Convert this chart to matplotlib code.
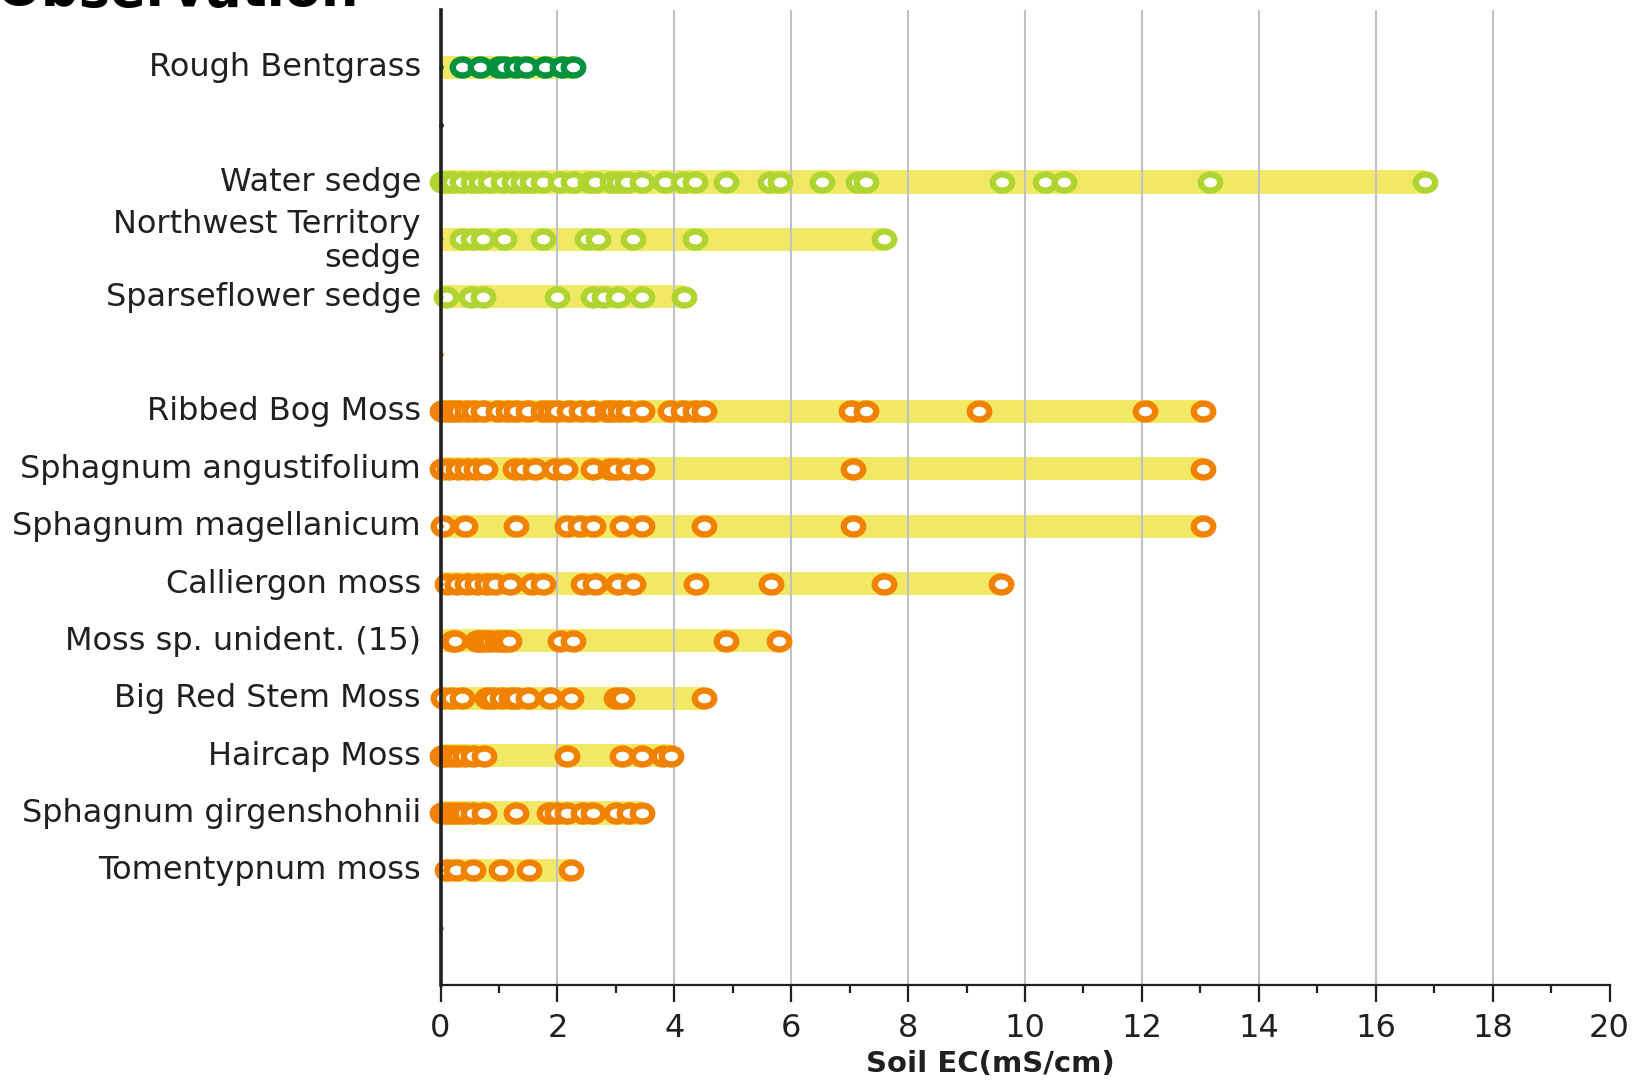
import matplotlib.pyplot as plt
import matplotlib.transforms as mtransforms
from matplotlib.path import Path
from matplotlib.markers import MarkerStyle
import numpy as np

# categories, top to bottom ('' = spacer row)
categories = ['Rough Bentgrass', '', 'Water sedge', 'Northwest Territory\nsedge',
              'Sparseflower sedge', '', 'Ribbed Bog Moss', 'Sphagnum angustifolium',
              'Sphagnum magellanicum', 'Calliergon moss', 'Moss sp. unident. (15)',
              'Big Red Stem Moss', 'Haircap Moss', 'Sphagnum girgenshohnii',
              'Tomentypnum moss', '']

# soil EC observations (mS/cm) per species
rough_bentgrass = [0.37, 0.68, 1.0, 1.09, 1.29, 1.47, 1.78, 2.08, 2.27]
water_sedge = [0.03, 0.12, 0.22, 0.36, 0.56, 0.70, 0.85, 1.07, 1.25, 1.42, 1.56, 1.76,
               2.04, 2.27, 2.55, 2.64, 2.93, 3.05, 3.19, 3.44, 3.84, 4.15, 4.35, 4.88,
               5.64, 5.80, 6.52, 7.15, 7.28, 9.60, 10.35, 10.66, 13.17, 16.84]
nwt_sedge = [0.36, 0.56, 0.73, 1.09, 1.76, 2.50, 2.70, 3.29, 4.35, 7.59]
sparseflower_sedge = [0.09, 0.53, 0.73, 2.00, 2.61, 2.80, 3.03, 3.44, 4.17]
ribbed_bog_moss = [0.03, 0.12, 0.22, 0.32, 0.45, 0.58, 0.73, 0.99, 1.16, 1.30, 1.50,
                   1.75, 1.87, 1.99, 2.19, 2.41, 2.61, 2.85, 2.93, 3.07, 3.21, 3.44,
                   3.93, 4.15, 4.35, 4.51, 7.03, 7.28, 9.22, 12.06, 13.05]
sphagnum_ang = [0.03, 0.15, 0.3, 0.45, 0.6, 0.76, 1.27, 1.42, 1.62, 1.96, 2.13, 2.61,
                2.9, 3.01, 3.21, 3.44, 7.05, 13.05]
sphagnum_mag = [0.05, 0.42, 1.29, 2.16, 2.39, 2.61, 3.10, 3.44, 4.51, 7.05, 13.05]
calliergon = [0.11, 0.28, 0.45, 0.62, 0.79, 0.93, 1.19, 1.56, 1.76, 2.44, 2.64, 3.04,
              3.29, 4.37, 5.65, 7.59, 9.59]
moss_unident = [0.22, 0.24, 0.62, 0.66, 0.70, 0.76, 0.85, 0.97, 1.05, 1.10, 1.17,
                2.05, 2.27, 4.89, 5.79]
big_red_stem = [0.05, 0.19, 0.37, 0.80, 0.90, 1.05, 1.20, 1.30, 1.50, 1.88, 2.23,
                3.01, 3.11, 4.51]
haircap = [0.02, 0.10, 0.19, 0.30, 0.42, 0.55, 0.74, 2.16, 3.11, 3.44, 3.81, 3.94]
sphagnum_girg = [0.02, 0.12, 0.22, 0.32, 0.42, 0.55, 0.74, 1.29, 1.85, 1.99, 2.16,
                 2.44, 2.61, 3.01, 3.23, 3.44]
tomentypnum = [0.11, 0.27, 0.56, 1.03, 1.51, 2.23]

series = [rough_bentgrass, None, water_sedge, nwt_sedge, sparseflower_sedge, None,
          ribbed_bog_moss, sphagnum_ang, sphagnum_mag, calliergon, moss_unident,
          big_red_stem, haircap, sphagnum_girg, tomentypnum, None]

DARK_GREEN = '#00923F'
LIGHT_GREEN = '#B0D531'
ORANGE = '#F18200'
YELLOW = '#F1E965'
INK = '#231F20'
row_colors = [DARK_GREEN, INK, LIGHT_GREEN, LIGHT_GREEN, LIGHT_GREEN, ORANGE] + [ORANGE] * 10

x_ticks = list(range(0, 21, 2))
grid_x = list(range(2, 19, 2))

# slightly flattened ring marker
t = np.linspace(0, 2 * np.pi, 64)
ring = MarkerStyle(Path(np.column_stack([np.cos(t), 0.82 * np.sin(t)]), closed=True))

fig = plt.figure(figsize=(16.35, 10.8), dpi=100)
ax = fig.add_axes([440.5 / 1635, 95 / 1080, 1169 / 1635, 975 / 1080])

for row, vals in enumerate(series):
    ax.plot([0], [row], 'o', ms=2.5, color=row_colors[row], zorder=4, clip_on=False)
    if vals is None:
        continue
    ax.barh(row, max(vals), height=0.405, left=0, color=YELLOW, zorder=1)
    ax.plot(vals, [row] * len(vals), linestyle='none', marker=ring, ms=14, mew=4.6,
            mfc='white', mec=row_colors[row], zorder=3, clip_on=False)

for gx in grid_x:
    ax.axvline(gx, color='#BEC1C8', lw=1.5, zorder=2)

ax.set_xlim(0, 20)
ax.set_ylim(16, -1)

ax.set_xticks(x_ticks)
ax.set_xticks(range(1, 20, 2), minor=True)
ax.tick_params(axis='x', which='major', length=12, width=1.6, color=INK,
               labelsize=23, labelcolor=INK, pad=8)
ax.tick_params(axis='x', which='minor', length=6, width=1.6, color=INK)

ax.set_yticks(range(len(categories)))
ax.set_yticklabels(categories)
ax.tick_params(axis='y', length=0, labelsize=23, labelcolor=INK, pad=14)
lift = mtransforms.ScaledTranslation(0, 3 / 100, fig.dpi_scale_trans)
for lab in ax.get_yticklabels():
    lab.set_linespacing(1.12)
    lab.set_transform(lab.get_transform() + lift)

for side in ['top', 'right']:
    ax.spines[side].set_visible(False)
ax.spines['left'].set_linewidth(2.6)
ax.spines['left'].set_color(INK)
ax.spines['left'].set_zorder(5)
ax.spines['bottom'].set_linewidth(1.6)
ax.spines['bottom'].set_color(INK)

fig.text(0.606, 0.015, 'Soil EC(mS/cm)', fontsize=21, fontweight='bold',
         color=INK, ha='center', va='center')
fig.text(-0.002, 1 - 6 / 1080, 'Observation', fontsize=38, fontweight='bold',
         color='black', ha='left', va='baseline')

fig.savefig('out.png', dpi=100)
